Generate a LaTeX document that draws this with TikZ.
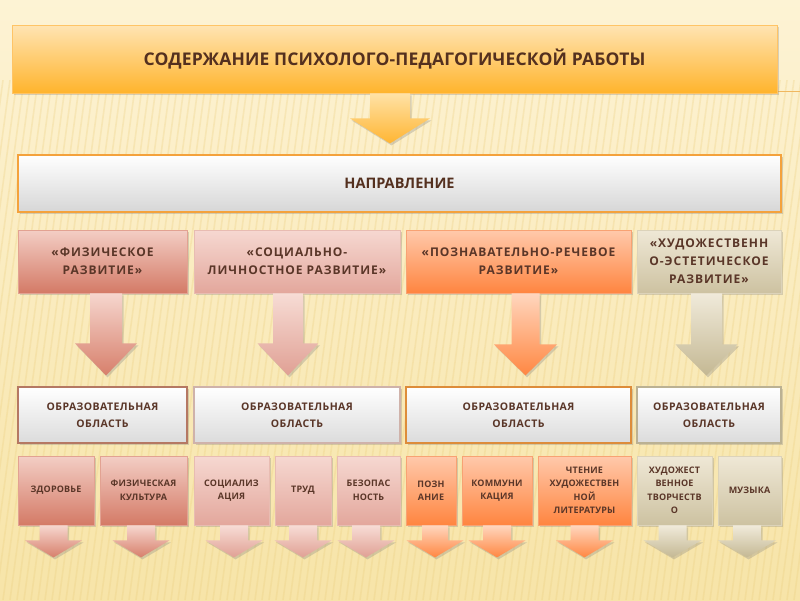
\documentclass[tikz,border=0pt]{standalone}
\usepackage{fontspec}
\setmainfont{Open Sans}
\usetikzlibrary{calc,shadows}
\definecolor{txt}{HTML}{5A3628}
\definecolor{txtd}{HTML}{54301F}
\definecolor{bgtop}{HTML}{FDF3D4}
\definecolor{bgbot}{HTML}{F7E4A8}
\definecolor{stripe}{HTML}{ECCF80}
\definecolor{orline}{HTML}{F0B860}
\definecolor{ttop}{HTML}{FFE4B3}
\definecolor{tbot}{HTML}{FFB42C}
\definecolor{tbord}{HTML}{FFC466}
\definecolor{nbord}{HTML}{F4A23C}
\definecolor{tatop}{HTML}{FFE2A6}
\definecolor{tabot}{HTML}{FFB532}
\definecolor{phtop}{HTML}{F3CEC5}
\definecolor{phbot}{HTML}{D47A66}
\definecolor{phbord}{HTML}{E2A292}
\definecolor{sotop}{HTML}{F6D8D1}
\definecolor{sobot}{HTML}{E3A79C}
\definecolor{sobord}{HTML}{E8BCB2}
\definecolor{cotop}{HTML}{FFC9AB}
\definecolor{cobot}{HTML}{FF8540}
\definecolor{cobord}{HTML}{F8A273}
\definecolor{artop}{HTML}{EFE8D6}
\definecolor{arbot}{HTML}{CDC2A1}
\definecolor{arbord}{HTML}{DCD3BA}
\definecolor{a1top}{HTML}{F6D6CE}
\definecolor{a1bot}{HTML}{D77F6B}
\definecolor{a2top}{HTML}{F7DCD5}
\definecolor{a2bot}{HTML}{E0A094}
\definecolor{a3top}{HTML}{FFD6BE}
\definecolor{a3bot}{HTML}{FF8742}
\definecolor{a4top}{HTML}{F0EADA}
\definecolor{a4bot}{HTML}{C4B893}
\definecolor{ob1}{HTML}{B57863}
\definecolor{ob2}{HTML}{CFB2AA}
\definecolor{ob3}{HTML}{DD8C3A}
\definecolor{ob4}{HTML}{BBB193}
\newcommand\blockarr[7]{%
  \path[#7] ($(#1.south)+(#2-#3,0)$) -- ($(#1.south)+(#2+#3,0)$) -- ($(#1.south)+(#2+#3,#5)$) -- ($(#1.south)+(#2+#4,#5)$) -- ($(#1.south)+(#2,#6)$) -- ($(#1.south)+(#2-#4,#5)$) -- ($(#1.south)+(#2-#3,#5)$) -- cycle;}
\begin{document}
\begin{tikzpicture}[x=1pt,y=-1pt,
  shad/.style={drop shadow={opacity=0.3,shadow xshift=1.5pt,shadow yshift=-2pt}},
  box/.style={draw,line width=0.8pt,inner sep=2pt,align=center,text=txt,shad},
  dirbox/.style={box,font=\bfseries\fontsize{12}{18}\selectfont\addfontfeature{LetterSpace=8},minimum height=63pt},
  areabox/.style={box,line width=1.3pt,top color=white,bottom color=black!14,font=\bfseries\fontsize{10.5}{17}\selectfont\addfontfeature{LetterSpace=4},minimum height=56pt},
  smallbox/.style={box,font=\bfseries\fontsize{9}{13.5}\selectfont\addfontfeature{LetterSpace=2},minimum height=69pt},
  phys/.style={top color=phtop,bottom color=phbot,draw=phbord},
  soc/.style={top color=sotop,bottom color=sobot,draw=sobord},
  cog/.style={top color=cotop,bottom color=cobot,draw=cobord},
  art/.style={top color=artop,bottom color=arbot,draw=arbord},
  arr/.style={shad},
  pa/.style={arr,top color=a1top,bottom color=a1bot},
  sa/.style={arr,top color=a2top,bottom color=a2bot},
  ca/.style={arr,top color=a3top,bottom color=a3bot},
  aa/.style={arr,top color=a4top,bottom color=a4bot},
]
\useasboundingbox (0,0) rectangle (800,600);
% background
\shade[top color=bgtop,bottom color=bgbot] (0,0) rectangle (800,600);
\begin{scope}
\clip (0,80) rectangle (800,600);
\foreach \i in {-200,-193,...,800}{
  \draw[stripe,line width=1.6pt,opacity=0.3] (\i,600) -- (\i+70,80);
}
\end{scope}
\draw[orline,line width=0.8pt] (777,91.5) -- (800,91.5);
% title
\node[box,line width=0.8pt,top color=ttop,bottom color=tbot,draw=tbord,
  minimum width=765pt,minimum height=68pt,text=txtd,
  font=\bfseries\fontsize{17.5}{20}\selectfont\addfontfeature{LetterSpace=1}] (title) at (394.5,59)
  {СОДЕРЖАНИЕ ПСИХОЛОГО-ПЕДАГОГИЧЕСКОЙ РАБОТЫ};
\node[box,line width=1.2pt,top color=white,bottom color=black!16,draw=nbord,
  minimum width=763pt,minimum height=57pt,text=txtd,
  font=\bfseries\fontsize{14.5}{16}\selectfont] (napr) at (399.5,183.5) {НАПРАВЛЕНИЕ};
\blockarr{title}{-4.5}{20}{40}{25}{50}{arr,top color=tatop,bottom color=tabot}
% row 3
\node[dirbox,phys,minimum width=169pt] (d1) at (102.5,261.5) {«ФИЗИЧЕСКОЕ\\РАЗВИТИЕ»};
\node[dirbox,soc,minimum width=206pt] (d2) at (297,261.5) {«СОЦИАЛЬНО-\\ЛИЧНОСТНОЕ РАЗВИТИЕ»};
\node[dirbox,cog,minimum width=225pt] (d3) at (518.5,261.5) {«ПОЗНАВАТЕЛЬНО-РЕЧЕВОЕ\\РАЗВИТИЕ»};
\node[dirbox,art,minimum width=144pt] (d4) at (709,261.5) {«ХУДОЖЕСТВЕНН\\О-ЭСТЕТИЧЕСКОЕ\\РАЗВИТИЕ»};
\blockarr{d1}{3.5}{16}{31}{50}{82}{pa}
\blockarr{d2}{-9}{15}{30.5}{50}{82}{sa}
\blockarr{d3}{7}{14}{31.5}{51}{82}{ca}
\blockarr{d4}{-2.5}{15.5}{31}{51}{82}{aa}
% row 4
\node[areabox,draw=ob1,minimum width=169pt] (a1) at (102.5,415) {ОБРАЗОВАТЕЛЬНАЯ\\ОБЛАСТЬ};
\node[areabox,draw=ob2,minimum width=206pt] (a2) at (297,415) {ОБРАЗОВАТЕЛЬНАЯ\\ОБЛАСТЬ};
\node[areabox,draw=ob3,minimum width=225pt] (a3) at (518.5,415) {ОБРАЗОВАТЕЛЬНАЯ\\ОБЛАСТЬ};
\node[areabox,draw=ob4,minimum width=144pt] (a4) at (709,415) {ОБРАЗОВАТЕЛЬНАЯ\\ОБЛАСТЬ};
% row 5
\node[smallbox,phys,minimum width=76pt] (s1) at (56,490.5) {ЗДОРОВЬЕ};
\node[smallbox,phys,minimum width=87pt] (s2) at (143.5,490.5) {ФИЗИЧЕСКАЯ\\КУЛЬТУРА};
\node[smallbox,soc,minimum width=75pt] (s3) at (231.5,490.5) {СОЦИАЛИЗ\\АЦИЯ};
\node[smallbox,soc,minimum width=56pt] (s4) at (303,490.5) {ТРУД};
\node[smallbox,soc,minimum width=63pt] (s5) at (368.5,490.5) {БЕЗОПАС\\НОСТЬ};
\node[smallbox,cog,minimum width=50pt] (s6) at (431,490.5) {ПОЗН\\АНИЕ};
\node[smallbox,cog,minimum width=70pt] (s7) at (497,490.5) {КОММУНИ\\КАЦИЯ};
\node[smallbox,cog,minimum width=93pt] (s8) at (584.5,490.5) {ЧТЕНИЕ\\ХУДОЖЕСТВЕН\\НОЙ\\ЛИТЕРАТУРЫ};
\node[smallbox,art,minimum width=75pt] (s9) at (674.5,490.5) {ХУДОЖЕСТ\\ВЕННОЕ\\ТВОРЧЕСТВ\\О};
\node[smallbox,art,minimum width=63pt] (s10) at (749.5,490.5) {МУЗЫКА};
\blockarr{s1}{-2.5}{14}{28.5}{15}{32}{pa}
\blockarr{s2}{-2.5}{14}{28.5}{15}{32}{pa}
\blockarr{s3}{2.5}{14}{28.5}{15}{32}{sa}
\blockarr{s4}{0}{14}{28.5}{15}{32}{sa}
\blockarr{s5}{-2.5}{14}{28.5}{15}{32}{sa}
\blockarr{s6}{4}{13}{28.5}{15}{32}{ca}
\blockarr{s7}{0}{14}{28.5}{15}{32}{ca}
\blockarr{s8}{0}{14}{28.5}{15}{32}{ca}
\blockarr{s9}{-2}{14}{29}{15}{32}{aa}
\blockarr{s10}{-2.5}{14}{29}{15}{32}{aa}
\end{tikzpicture}
\end{document}
